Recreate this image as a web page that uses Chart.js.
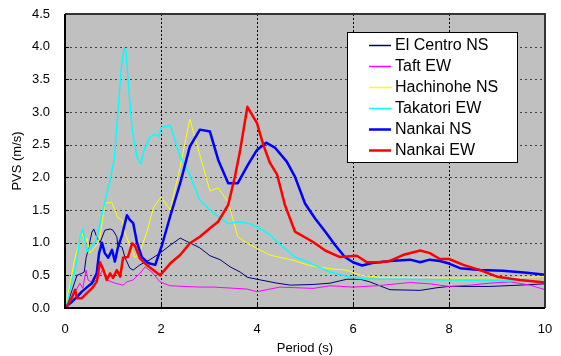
<!DOCTYPE html>
<html>
<head>
<meta charset="utf-8">
<script src="https://cdn.jsdelivr.net/npm/chart.js@4"></script>
<style>
  body { margin: 0; background: #fff; }
</style>
</head>
<body>
<canvas id="pvsChart" width="561" height="356"></canvas>
<script>
// Period (s) and PVS (m/s), one pair of arrays per record
const elCentroT = [0, 0.07, 0.15, 0.25, 0.35, 0.4, 0.44, 0.48, 0.56, 0.6, 0.66, 0.73, 0.83, 0.94, 1.0, 1.08, 1.1, 1.19, 1.25, 1.35, 1.42, 1.56, 1.77, 1.98, 2.19, 2.4, 2.81, 3.02, 3.23, 3.44, 3.65, 3.8, 4.0, 4.42, 4.7, 5.17, 5.52, 5.87, 6.15, 6.35, 6.77, 7.4, 7.75, 8.0, 8.85, 9.48, 10];
const elCentroV = [0, 0.1, 0.28, 0.5, 0.53, 0.55, 0.77, 0.88, 1.16, 1.21, 1.09, 1.0, 1.19, 1.21, 1.19, 1.09, 0.96, 0.93, 0.77, 0.61, 0.58, 0.66, 0.74, 0.84, 0.96, 1.07, 0.92, 0.8, 0.74, 0.63, 0.55, 0.47, 0.44, 0.38, 0.35, 0.36, 0.38, 0.44, 0.44, 0.4, 0.28, 0.27, 0.31, 0.33, 0.33, 0.35, 0.37];

const taftT = [0, 0.07, 0.15, 0.25, 0.31, 0.37, 0.44, 0.48, 0.58, 0.69, 0.8, 0.87, 1.04, 1.21, 1.29, 1.42, 1.56, 1.67, 1.81, 1.98, 2.19, 2.81, 3.1, 3.79, 4.0, 4.48, 5.17, 5.52, 6.0, 6.5, 6.77, 7.19, 7.6, 8.0, 8.44, 8.85, 9.27, 9.69, 10];
const taftV = [0, 0.05, 0.15, 0.3, 0.38, 0.3, 0.58, 0.43, 0.38, 0.46, 0.61, 0.43, 0.38, 0.35, 0.4, 0.43, 0.53, 0.63, 0.55, 0.4, 0.34, 0.32, 0.32, 0.29, 0.25, 0.32, 0.3, 0.34, 0.32, 0.34, 0.36, 0.39, 0.37, 0.33, 0.35, 0.38, 0.4, 0.35, 0.28];

const hachinoheT = [0, 0.1, 0.2, 0.35, 0.42, 0.46, 0.52, 0.66, 0.73, 0.83, 0.97, 1.04, 1.1, 1.19, 1.25, 1.35, 1.46, 1.56, 1.7, 1.84, 2.0, 2.19, 2.4, 2.6, 3.02, 3.19, 3.4, 3.6, 3.8, 4.06, 4.27, 4.75, 5.1, 5.52, 5.87, 6.15, 6.56, 7.0, 8.0, 9.0, 10];
const hachinoheV = [0, 0.35, 0.74, 1.16, 1.0, 1.07, 0.84, 0.96, 1.09, 1.6, 1.62, 1.5, 1.38, 1.35, 1.15, 0.96, 0.77, 0.86, 1.15, 1.53, 1.7, 1.5, 2.16, 2.89, 1.79, 1.84, 1.62, 1.09, 0.99, 0.89, 0.81, 0.73, 0.65, 0.6, 0.58, 0.5, 0.47, 0.47, 0.46, 0.46, 0.48];

const takatoriT = [0, 0.07, 0.15, 0.19, 0.25, 0.31, 0.37, 0.42, 0.46, 0.52, 0.58, 0.65, 0.73, 0.83, 0.94, 1.03, 1.1, 1.17, 1.23, 1.27, 1.33, 1.4, 1.5, 1.58, 1.65, 1.77, 1.88, 1.96, 2.0, 2.19, 2.4, 2.6, 2.81, 3.02, 3.23, 3.4, 3.6, 3.85, 4.06, 4.27, 4.42, 4.79, 5.1, 5.52, 5.94, 6.35, 7.0, 8.0, 9.0, 10];
const takatoriV = [0, 0.15, 0.43, 0.53, 0.74, 1.07, 1.21, 1.01, 0.86, 0.92, 0.96, 1.04, 1.3, 1.62, 1.96, 2.3, 2.98, 3.64, 3.98, 3.95, 3.34, 2.73, 2.31, 2.2, 2.42, 2.62, 2.66, 2.62, 2.76, 2.8, 2.32, 2.04, 1.65, 1.5, 1.38, 1.29, 1.32, 1.29, 1.22, 1.12, 1.01, 0.78, 0.69, 0.55, 0.47, 0.44, 0.44, 0.43, 0.42, 0.4];

const nankaiNST = [0, 0.04, 0.15, 0.25, 0.35, 0.46, 0.56, 0.66, 0.71, 0.77, 0.83, 0.9, 0.98, 1.04, 1.1, 1.19, 1.29, 1.35, 1.42, 1.5, 1.6, 1.73, 1.88, 2.02, 2.19, 2.4, 2.6, 2.81, 3.02, 3.19, 3.4, 3.6, 3.81, 4.0, 4.19, 4.38, 4.62, 4.79, 5.0, 5.21, 5.42, 5.63, 5.83, 6.0, 6.19, 6.4, 6.77, 7.19, 7.4, 7.6, 7.81, 8.0, 8.23, 8.65, 9.12, 9.62, 10];
const nankaiNSV = [0, 0.03, 0.1, 0.17, 0.25, 0.32, 0.38, 0.53, 0.84, 1.0, 0.84, 0.77, 0.89, 0.71, 0.92, 1.12, 1.42, 1.35, 1.3, 1.0, 0.78, 0.69, 0.66, 0.96, 1.4, 1.91, 2.47, 2.73, 2.7, 2.27, 1.91, 1.91, 2.19, 2.42, 2.53, 2.45, 2.24, 2.01, 1.6, 1.37, 1.17, 0.96, 0.78, 0.7, 0.65, 0.69, 0.72, 0.74, 0.7, 0.74, 0.72, 0.68, 0.61, 0.58, 0.57, 0.54, 0.51];

const nankaiEWT = [0, 0.04, 0.15, 0.21, 0.25, 0.35, 0.46, 0.56, 0.66, 0.73, 0.8, 0.87, 0.94, 1.0, 1.08, 1.15, 1.21, 1.31, 1.4, 1.46, 1.56, 1.7, 1.84, 1.98, 2.19, 2.4, 2.6, 2.81, 3.02, 3.19, 3.4, 3.54, 3.65, 3.8, 4.0, 4.13, 4.27, 4.42, 4.58, 4.79, 5.17, 5.42, 5.73, 6.08, 6.29, 6.56, 6.77, 7.04, 7.4, 7.6, 7.81, 8.0, 8.3, 8.65, 9.0, 9.48, 10];
const nankaiEWV = [0, 0.02, 0.17, 0.28, 0.15, 0.15, 0.23, 0.3, 0.4, 0.7, 0.58, 0.43, 0.53, 0.46, 0.58, 0.48, 0.77, 0.78, 0.99, 0.95, 0.76, 0.66, 0.58, 0.5, 0.68, 0.81, 0.99, 1.09, 1.22, 1.32, 1.58, 2.01, 2.42, 3.08, 2.83, 2.5, 2.22, 2.04, 1.58, 1.17, 1.01, 0.88, 0.78, 0.8, 0.7, 0.7, 0.72, 0.81, 0.88, 0.84, 0.75, 0.75, 0.66, 0.58, 0.48, 0.43, 0.39];

const seriesNames = ['El Centro NS', 'Taft EW', 'Hachinohe NS', 'Takatori EW', 'Nankai NS', 'Nankai EW'];
const seriesColors = ['#000080', '#ff00ff', '#ffff00', '#00ffff', '#0000ff', '#ff0000'];
const seriesWidths = [1, 1, 1, 1.5, 2.5, 2.5];
const seriesT = [elCentroT, taftT, hachinoheT, takatoriT, nankaiNST, nankaiEWT];
const seriesV = [elCentroV, taftV, hachinoheV, takatoriV, nankaiNSV, nankaiEWV];

const xTicks = [0, 2, 4, 6, 8, 10];
const yTicks = [0, 0.5, 1.0, 1.5, 2.0, 2.5, 3.0, 3.5, 4.0, 4.5];

const FONT = 'Arial, "Liberation Sans", sans-serif';

// gray plot area plus dotted grid, drawn under the lines
const plotBackground = {
    id: 'plotBackground',
    beforeDatasetsDraw(chart) {
        const { ctx, chartArea: a, scales } = chart;
        ctx.save();
        ctx.fillStyle = '#c0c0c0';
        ctx.fillRect(a.left, a.top, a.right - a.left, a.bottom - a.top);

        ctx.lineWidth = 1;
        // horizontal dotted lines with a short solid tick at the left axis
        yTicks.forEach(v => {
            const y = Math.round(scales.y.getPixelForValue(v)) + 0.5;
            if (v === 0 || v === 4.5) return;
            ctx.strokeStyle = '#404040';
            ctx.setLineDash([2, 3]);
            ctx.beginPath();
            ctx.moveTo(a.left, y);
            ctx.lineTo(a.right, y);
            ctx.stroke();
            ctx.setLineDash([]);
            ctx.strokeStyle = '#000';
            ctx.beginPath();
            ctx.moveTo(a.left, y);
            ctx.lineTo(a.left + 4, y);
            ctx.stroke();
        });
        // vertical dotted lines at the period ticks
        xTicks.forEach(v => {
            if (v === 0 || v === 10) return;
            const x = Math.round(scales.x.getPixelForValue(v)) + 0.5;
            ctx.strokeStyle = '#000';
            ctx.setLineDash([2, 2]);
            ctx.beginPath();
            ctx.moveTo(x, a.top);
            ctx.lineTo(x, a.bottom);
            ctx.stroke();
            ctx.setLineDash([]);
            ctx.beginPath();
            ctx.moveTo(x, a.bottom);
            ctx.lineTo(x, a.bottom - 4);
            ctx.stroke();
        });
        ctx.restore();
    }
};

// frame around the plot and the boxed legend in the upper right
const frameAndLegend = {
    id: 'frameAndLegend',
    afterDraw(chart) {
        const { ctx, chartArea: a } = chart;
        ctx.save();
        ctx.lineWidth = 2;
        ctx.strokeStyle = '#333';
        ctx.beginPath();
        ctx.moveTo(a.left, a.top);
        ctx.lineTo(a.right, a.top);
        ctx.lineTo(a.right, a.bottom);
        ctx.stroke();
        ctx.strokeStyle = '#000';
        ctx.beginPath();
        ctx.moveTo(a.left, a.top);
        ctx.lineTo(a.left, a.bottom);
        ctx.lineTo(a.right, a.bottom);
        ctx.stroke();

        // legend box
        const bx = 347, by = 32, bw = 170, bh = 130;
        ctx.fillStyle = '#fff';
        ctx.fillRect(bx, by, bw, bh);
        ctx.lineWidth = 1;
        ctx.strokeStyle = '#000';
        ctx.strokeRect(bx + 0.5, by + 0.5, bw, bh);

        ctx.font = '16px ' + FONT;
        ctx.textBaseline = 'middle';
        ctx.textAlign = 'left';
        chart.data.datasets.forEach((ds, i) => {
            const y = 44.5 + i * 21.1;
            ctx.strokeStyle = ds.borderColor;
            ctx.lineWidth = Math.max(ds.borderWidth, 1.5);
            ctx.beginPath();
            ctx.moveTo(369, Math.round(y) + 0.5);
            ctx.lineTo(391, Math.round(y) + 0.5);
            ctx.stroke();
            ctx.fillStyle = '#000';
            ctx.fillText(ds.label, 395, y + 1);
        });
        ctx.restore();
    }
};

const datasets = seriesNames.map((name, i) => ({
    label: name,
    data: seriesT[i].map((t, k) => ({ x: t, y: seriesV[i][k] })),
    borderColor: seriesColors[i],
    backgroundColor: seriesColors[i],
    borderWidth: seriesWidths[i],
    pointRadius: 0,
    tension: 0,
    fill: false,
    borderJoinStyle: 'round',
    order: seriesNames.length - i
}));

new Chart(document.getElementById('pvsChart'), {
    type: 'line',
    data: { datasets: datasets },
    options: {
        responsive: false,
        animation: false,
        devicePixelRatio: 1,
        layout: { padding: { top: 14, right: 16, left: 0, bottom: 0 } },
        plugins: {
            legend: { display: false },
            tooltip: { enabled: false }
        },
        scales: {
            x: {
                type: 'linear',
                min: 0,
                max: 10,
                afterBuildTicks: scale => { scale.ticks = xTicks.map(v => ({ value: v })); },
                afterFit: scale => {
                    scale.height = 48;
                    scale.paddingLeft = 0;
                    scale.paddingRight = 0;
                },
                ticks: {
                    color: '#000',
                    padding: 14,
                    maxRotation: 0,
                    font: { family: FONT, size: 13 },
                    callback: v => String(v)
                },
                grid: { display: false, drawTicks: false },
                border: { display: false },
                title: {
                    display: true,
                    text: 'Period (s)',
                    color: '#000',
                    padding: { top: 0, bottom: 0 },
                    font: { family: FONT, size: 13 }
                }
            },
            y: {
                min: 0,
                max: 4.5,
                afterBuildTicks: scale => { scale.ticks = yTicks.map(v => ({ value: v })); },
                afterFit: scale => {
                    scale.width = 65;
                    scale.paddingTop = 0;
                    scale.paddingBottom = 0;
                },
                ticks: {
                    color: '#000',
                    padding: 15,
                    font: { family: FONT, size: 13 },
                    callback: v => v.toFixed(1)
                },
                grid: { display: false, drawTicks: false },
                border: { display: false },
                title: {
                    display: true,
                    text: 'PVS (m/s)',
                    color: '#000',
                    padding: { top: 10, bottom: 0 },
                    font: { family: FONT, size: 13 }
                }
            }
        }
    },
    plugins: [plotBackground, frameAndLegend]
});
</script>
</body>
</html>
